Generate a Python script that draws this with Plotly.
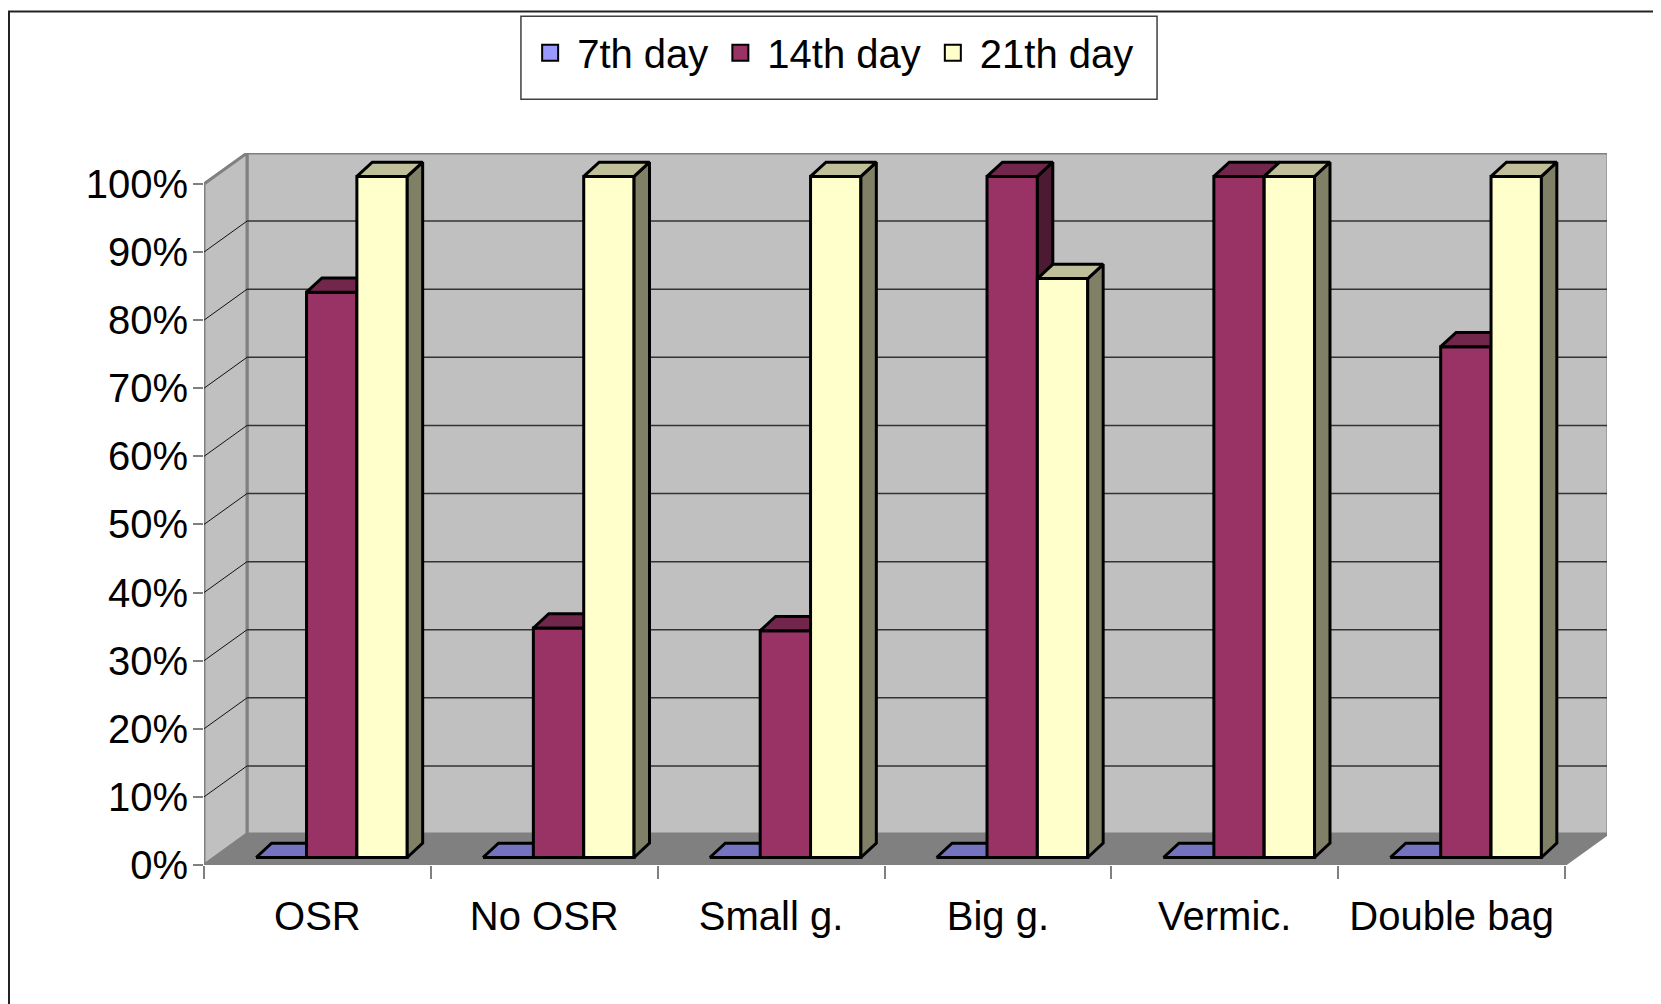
import plotly.graph_objects as go

# ---------------- data ----------------
categories = ["OSR", "No OSR", "Small g.", "Big g.", "Vermic.", "Double bag"]
series_names = ["7th day", "14th day", "21th day"]
day7 = [0, 0, 0, 0, 0, 0]
day14 = [83, 33.7, 33.3, 100, 100, 75]
day21 = [100, 100, 100, 85, 100, 100]
y_tickvals = [0, 10, 20, 30, 40, 50, 60, 70, 80, 90, 100]
y_ticktext = ["0%", "10%", "20%", "30%", "40%", "50%", "60%", "70%", "80%", "90%", "100%"]

# ---------------- styles ----------------
front_colors = ["#9999FF", "#993366", "#FFFFCC"]
top_colors = ["#7373BF", "#73264C", "#BFBF99"]
side_colors = ["#4C4C80", "#4D1A33", "#808066"]
FONT = "Liberation Sans, Arial, sans-serif"

# 3D geometry (axis units)
X_MIN, X_MAX = -0.5, 5.6852
Y_MAX = 104.54
DX, DY = 0.1896, 4.54          # wall depth
BAR_W, BAR_LEFT = 0.222, -0.27  # bar width, group left offset
BASE = 1.1                      # bar plane raised above floor front
BDX, BDY = 0.068, 2.1           # bar depth

all_series = [day7, day14, day21]
n_cat = len(categories)

fig = go.Figure()

for k, vals in enumerate(all_series):
    suf = "" if k == 0 else str(k + 1)
    xa, ya = "x" + suf, "y" + suf
    centers = [i + BAR_LEFT + BAR_W * k + BAR_W / 2 for i in range(n_cat)]
    fig.add_trace(go.Bar(
        x=centers, y=vals, base=BASE, width=BAR_W, name=series_names[k],
        marker=dict(color=front_colors[k], line=dict(color="black", width=3)),
        xaxis=xa, yaxis=ya, showlegend=False, hoverinfo="skip"))
    tx, ty, sx, sy = [], [], [], []
    for i, v in enumerate(vals):
        x0 = centers[i] - BAR_W / 2
        x1 = centers[i] + BAR_W / 2
        top = BASE + v
        tx += [x0, x0 + BDX, x1 + BDX, x1, x0, None]
        ty += [top, top + BDY, top + BDY, top, top, None]
        sx += [x1, x1 + BDX, x1 + BDX, x1, x1, None]
        sy += [BASE, BASE + BDY, top + BDY, top, BASE, None]
    fig.add_trace(go.Scatter(
        x=sx, y=sy, mode="lines", fill="toself", fillcolor=side_colors[k],
        line=dict(color="black", width=3), xaxis=xa, yaxis=ya,
        showlegend=False, hoverinfo="skip"))
    fig.add_trace(go.Scatter(
        x=tx, y=ty, mode="lines", fill="toself", fillcolor=top_colors[k],
        line=dict(color="black", width=3), xaxis=xa, yaxis=ya,
        showlegend=False, hoverinfo="skip"))

# legend entries
for k in range(3):
    fig.add_trace(go.Scatter(
        x=[None], y=[None], mode="markers", name=series_names[k],
        marker=dict(symbol="square", size=16, color=front_colors[k],
                    line=dict(color="black", width=2))))

shapes = []
# back wall
shapes.append(dict(type="rect", xref="x", yref="y", x0=X_MIN + DX, x1=5.5 + DX,
                   y0=DY, y1=100 + DY, fillcolor="#C0C0C0",
                   line=dict(color="#808080", width=3), layer="below"))
# left wall
shapes.append(dict(type="path", xref="x", yref="y",
                   path=f"M{X_MIN},0 L{X_MIN},100 L{X_MIN + DX},{100 + DY} L{X_MIN + DX},{DY} Z",
                   fillcolor="#C0C0C0", line=dict(color="#808080", width=3), layer="below"))
# floor
shapes.append(dict(type="path", xref="x", yref="y",
                   path=f"M{X_MIN},0 L5.5,0 L{5.5 + DX},{DY} L{X_MIN + DX},{DY} Z",
                   fillcolor="#808080", line=dict(color="#808080", width=2), layer="below"))
# gridlines
for v in y_tickvals[1:-1]:
    shapes.append(dict(type="line", xref="x", yref="y", x0=X_MIN + DX, x1=5.5 + DX,
                       y0=v + DY, y1=v + DY, line=dict(color="#333333", width=1.5),
                       layer="below"))
    shapes.append(dict(type="line", xref="x", yref="y", x0=X_MIN, x1=X_MIN + DX,
                       y0=v, y1=v + DY, line=dict(color="#111111", width=1),
                       layer="below"))
# outer frame
shapes.append(dict(type="rect", xref="paper", yref="paper", x0=-0.1390, x1=2,
                   y0=-2, y1=1.1989, line=dict(color="#222222", width=2)))
# legend box
shapes.append(dict(type="rect", xref="paper", yref="paper", x0=0.2259, x1=0.6793,
                   y0=1.0756, y1=1.192, line=dict(color="#404040", width=1.5)))

axis_font = dict(family=FONT, size=40, color="black")
fig.update_layout(
    width=1653, height=996, autosize=False,
    margin=dict(l=196, r=54, t=143, b=139),
    paper_bgcolor="white", plot_bgcolor="white",
    barmode="overlay", shapes=shapes,
    font=dict(family=FONT, color="black"),
    xaxis=dict(range=[X_MIN, X_MAX], tickmode="array", tickvals=list(range(n_cat)),
               ticktext=categories, ticks="", showgrid=False, zeroline=False,
               showline=False, tickfont=axis_font, ticklabelstandoff=24,
               minor=dict(tickmode="array", tickvals=[i - 0.5 for i in range(n_cat + 1)],
                          ticks="outside", ticklen=13, tickwidth=2, tickcolor="#808080",
                          showgrid=False)),
    yaxis=dict(range=[0, Y_MAX], tickmode="array", tickvals=y_tickvals,
               ticktext=y_ticktext, ticks="outside", ticklen=10, tickwidth=2,
               tickcolor="#808080", showgrid=False, zeroline=False, showline=False,
               tickfont=axis_font, ticklabelstandoff=-3),
    xaxis2=dict(overlaying="x", range=[X_MIN, X_MAX], visible=False),
    yaxis2=dict(overlaying="y", range=[0, Y_MAX], visible=False),
    xaxis3=dict(overlaying="x", range=[X_MIN, X_MAX], visible=False),
    yaxis3=dict(overlaying="y", range=[0, Y_MAX], visible=False),
    legend=dict(orientation="h", x=0.447, xanchor="center", y=1.1408, yanchor="middle",
                font=dict(family=FONT, size=40, color="black"), itemwidth=44,
                bgcolor="rgba(0,0,0,0)", borderwidth=0),
)

fig.write_html("out.html")
